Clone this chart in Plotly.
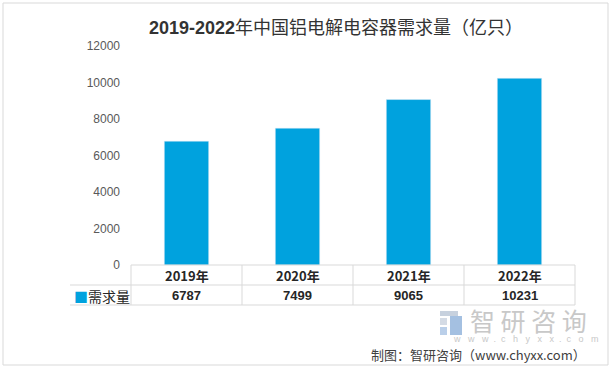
import plotly.graph_objects as go

# ---- data ----
categories = ["2019年", "2020年", "2021年", "2022年"]
demand = [6787, 7499, 9065, 10231]
series_name = "需求量"
y_ticks = [0, 2000, 4000, 6000, 8000, 10000, 12000]
y_tick_labels = [str(v) for v in y_ticks]

title_text = "<b>2019-2022</b>年中国铝电解电容器需求量（亿只）"
source_text = "制图：智研咨询（www.chyxx.com）"

BAR = "#00A2DE"
W, H = 613, 369
L, R, T, B = 131, 575, 46, 265  # plot area in pixels


def px_x(px):
    return (px - L) / (R - L)


def px_y(py):
    return (B - py) / (B - T)


fig = go.Figure()
fig.add_trace(go.Bar(x=categories, y=demand, marker_color=BAR, width=0.4,
                     name=series_name, showlegend=False, hoverinfo="skip"))

shapes = []
grid = "#D9D9D9"
# table horizontal lines
shapes.append(dict(type="line", xref="paper", yref="paper", x0=0, x1=1,
                   y0=px_y(265), y1=px_y(265), line=dict(color=grid, width=1)))
for py in (285, 305):
    shapes.append(dict(type="line", xref="paper", yref="paper", x0=px_x(70), x1=1,
                       y0=px_y(py), y1=px_y(py), line=dict(color=grid, width=1)))
# table vertical lines
for i in range(len(categories) + 1):
    xp = i / len(categories)
    shapes.append(dict(type="line", xref="paper", yref="paper", x0=xp, x1=xp,
                       y0=px_y(265), y1=px_y(305), line=dict(color=grid, width=1)))
# outer border
shapes.append(dict(type="rect", xref="paper", yref="paper", x0=px_x(3), x1=px_x(608),
                   y0=px_y(3), y1=px_y(365), line=dict(color="#D9D9D9", width=1)))
# watermark logo blocks
logo = [(440, 311, 458, 316, "#B9C6D6"), (440, 318, 447, 325, "#C9D2DE"),
        (450, 316, 462, 335, "#8DB0DA"), (440, 327, 447, 335, "#A9C3E3")]
for x0, y0, x1, y1, c in logo:
    shapes.append(dict(type="rect", xref="paper", yref="paper", x0=px_x(x0), x1=px_x(x1),
                       y0=px_y(y1), y1=px_y(y0), line=dict(width=0), fillcolor=c,
                       opacity=0.8))


def ann(x, y, text, size, color, family, xref="paper", xanchor="center"):
    return dict(x=x, xref=xref, y=y, yref="paper", text=text, showarrow=False,
                xanchor=xanchor, yanchor="middle",
                font=dict(size=size, color=color, family=family))


annotations = []
for cat, val in zip(categories, demand):
    annotations.append(ann(cat, px_y(275), f"<b>{cat}</b>", 13, "#262626",
                           "Noto Sans CJK SC, Liberation Sans", xref="x"))
    annotations.append(ann(cat, px_y(295.5), f"<b>{val}</b>", 13, "#262626",
                           "Liberation Sans, Noto Sans CJK SC", xref="x"))
annotations.append(ann(px_x(72), px_y(295.5),
                       f"<span style='color:{BAR}'>■</span>{series_name}",
                       14, "#262626", "Noto Sans CJK SC", xanchor="left"))
# title
annotations.append(ann(px_x(336), px_y(28), title_text, 18, "#333333",
                       "Liberation Sans, Noto Sans CJK SC"))
# watermark text
annotations.append(ann(px_x(528), px_y(320), "智 研 咨 询", 25, "#C8C8C8",
                       "Noto Sans CJK SC"))
annotations.append(ann(px_x(526), px_y(339), "w   w   w  .  c   h   y   x   x  .  c   o   m",
                       9, "#C8C8C8", "Liberation Sans"))
# source
annotations.append(ann(px_x(588), px_y(355), source_text, 13, "#404040",
                       "Noto Sans CJK SC, Liberation Sans", xanchor="right"))

fig.update_layout(
    width=W, height=H,
    margin=dict(l=L, r=W - R, t=T, b=H - B, pad=0),
    paper_bgcolor="white", plot_bgcolor="white",
    bargap=0.6,
    xaxis=dict(showticklabels=False, showline=False, showgrid=False, zeroline=False,
               ticks=""),
    yaxis=dict(range=[0, 12000], tickvals=y_ticks, ticktext=y_tick_labels,
               showgrid=False, zeroline=False,
               showline=False, ticks="", ticklabelstandoff=10,
               tickfont=dict(size=12, color="#595959", family="Liberation Sans")),
    shapes=shapes, annotations=annotations,
)

fig.write_html("out.html", config={"displayModeBar": False},
               post_script="document.body.style.margin='0';document.body.style.padding='0';")
